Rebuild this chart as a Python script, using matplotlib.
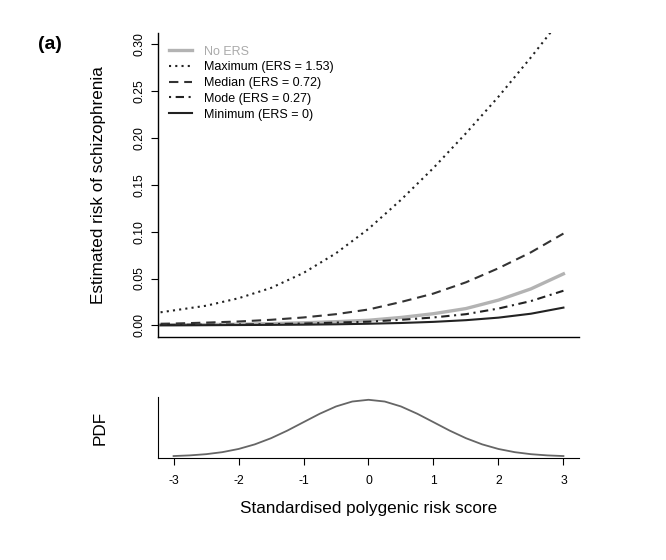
import matplotlib
matplotlib.use("Agg")
import matplotlib.pyplot as plt

plt.rcParams['font.family'] = ['Liberation Sans', 'DejaVu Sans']

# top panel: estimated risk
prs = [-3.2, -3, -2.5, -2, -1.5, -1, -0.5, 0, 0.5, 1, 1.5, 2, 2.5, 3]
risk_no_ers = [0.0005, 0.0006, 0.0009, 0.0013, 0.0019, 0.0028, 0.0040, 0.0055,
               0.0085, 0.0125, 0.018, 0.027, 0.039, 0.055]
risk_max = [0.014, 0.016, 0.021, 0.029, 0.040, 0.056, 0.077, 0.103,
            0.134, 0.168, 0.205, 0.244, 0.286, 0.330]
risk_median = [0.0018, 0.002, 0.003, 0.0042, 0.006, 0.0085, 0.012, 0.017,
               0.025, 0.034, 0.046, 0.061, 0.078, 0.098]
risk_mode = [0.0005, 0.0006, 0.0008, 0.001, 0.0014, 0.002, 0.003, 0.004,
             0.006, 0.0085, 0.012, 0.018, 0.026, 0.037]
risk_min = [0.0002, 0.0002, 0.0003, 0.0004, 0.0006, 0.0008, 0.0012, 0.0018,
            0.0026, 0.0038, 0.0056, 0.0083, 0.0125, 0.019]

# bottom panel: density of the score
pdf_x = [-3, -2.75, -2.5, -2.25, -2, -1.75, -1.5, -1.25, -1, -0.75, -0.5, -0.25, 0,
         0.25, 0.5, 0.75, 1, 1.25, 1.5, 1.75, 2, 2.25, 2.5, 2.75, 3]
pdf_y = [0.0044, 0.0091, 0.0175, 0.0317, 0.0540, 0.0863, 0.1295, 0.1826, 0.2420,
         0.3011, 0.3521, 0.3867, 0.3989, 0.3867, 0.3521, 0.3011, 0.2420, 0.1826,
         0.1295, 0.0863, 0.0540, 0.0317, 0.0175, 0.0091, 0.0044]

fig = plt.figure(figsize=(6.66, 5.6), dpi=100)
ax = fig.add_axes([0.2372, 0.3988, 0.6322, 0.5423])
ax2 = fig.add_axes([0.2372, 0.1816, 0.6322, 0.1086])

ln = 1.5
ax.plot(prs, risk_no_ers, color="#b3b3b3", lw=2.4, label="No ERS")
ax.plot(prs, risk_max, color="#222222", lw=ln, dashes=(1, 2), label="Maximum (ERS = 1.53)")
ax.plot(prs, risk_median, color="#333333", lw=ln, dashes=(4.5, 2.8), label="Median (ERS = 0.72)")
ax.plot(prs, risk_mode, color="#222222", lw=ln, dashes=(1, 2.2, 4, 2.2), label="Mode (ERS = 0.27)")
ax.plot(prs, risk_min, color="#222222", lw=ln, label="Minimum (ERS = 0)")

ax.set(xlim=(-3.24, 3.24), ylim=(-0.012, 0.312))
ax.set_xticks([])
ax.set_yticks([0, 0.05, 0.1, 0.15, 0.2, 0.25, 0.3])
ax.set_yticklabels(["0.00", "0.05", "0.10", "0.15", "0.20", "0.25", "0.30"],
                   rotation=90, va="center", fontsize=8.7)
ax.tick_params(axis='y', length=5, width=0.8, pad=4)
for s in ["top", "right"]:
    ax.spines[s].set_visible(False)
for s in ["left", "bottom"]:
    ax.spines[s].set_linewidth(1.0)
ax.set_ylabel("Estimated risk of schizophrenia", fontsize=12.3, labelpad=20)

leg = ax.legend(loc="upper left", frameon=False, fontsize=9, handlelength=1.85,
                handletextpad=0.95, labelspacing=0.3, borderaxespad=0,
                bbox_to_anchor=(0.015, 0.975))
leg.get_texts()[0].set_color("#aaaaaa")

ax2.plot(pdf_x, pdf_y, color="#666666", lw=1.3)
ax2.set(xlim=(-3.24, 3.24), ylim=(-0.0114, 0.415))
ax2.set_yticks([])
ax2.set_xticks([-3, -2, -1, 0, 1, 2, 3])
ax2.set_xticklabels(["-3", "-2", "-1", "0", "1", "2", "3"], fontsize=8.7)
ax2.tick_params(axis='x', length=5, width=0.8, pad=7)
for s in ["top", "right"]:
    ax2.spines[s].set_visible(False)
ax2.set_ylabel("PDF", fontsize=12.3, labelpad=36)
ax2.set_xlabel("Standardised polygenic risk score", fontsize=12.3, labelpad=10)

fig.text(0.057, 0.92, "(a)", fontsize=14, fontweight="bold", ha="left", va="center")

fig.savefig("out.png", dpi=100)
